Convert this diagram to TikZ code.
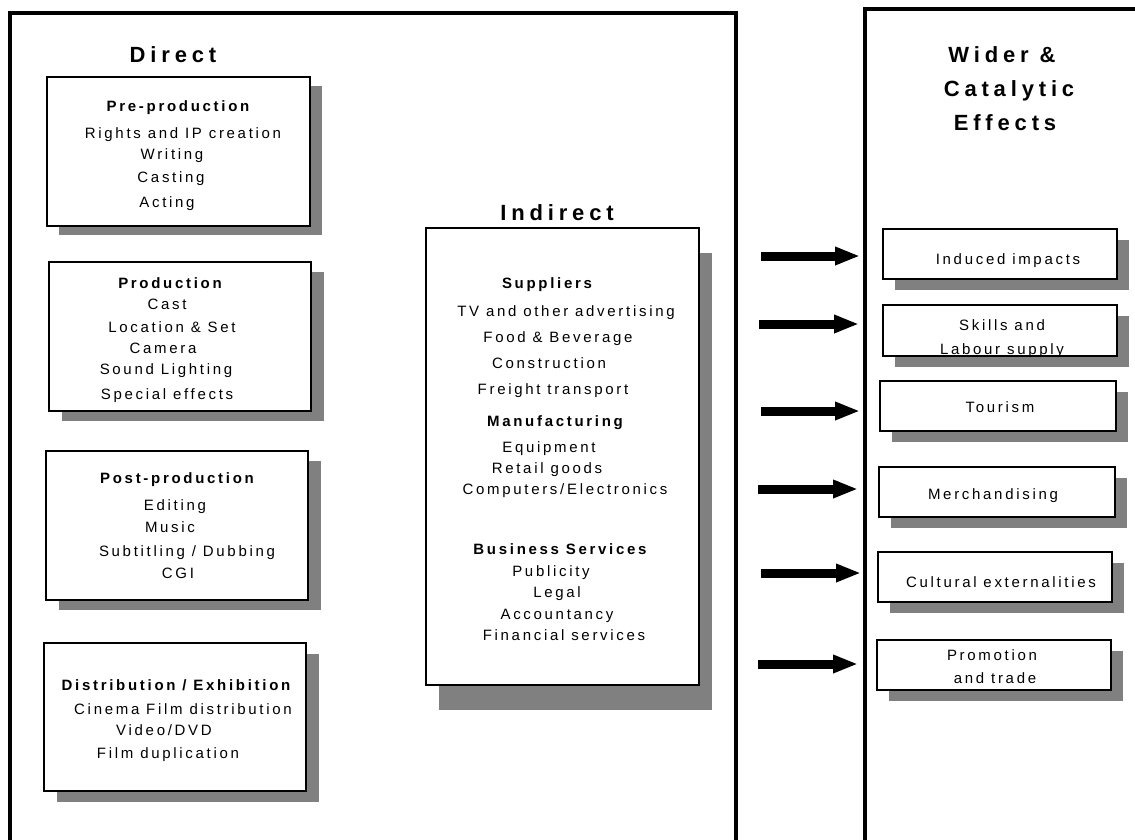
\documentclass[tikz,border=0pt]{standalone}
\usepackage{fontspec}
\setmainfont{Liberation Sans}[LetterSpace=18]
\usetikzlibrary{arrows.meta,shadows}
\definecolor{shadowgray}{RGB}{128,128,128}
\begin{document}
\begin{tikzpicture}[x=1pt,y=-1pt,
  frame/.style={line width=3.5pt, line join=miter},
  box/.style={draw, line width=1.6pt, fill=white, inner sep=0pt},
  shad/.style 2 args={drop shadow={shadow xshift=#1pt, shadow yshift=-#2pt, opacity=1, fill=shadowgray}},
  txt/.style={anchor=base, inner sep=0pt, yshift=-5.5pt, font=\fontsize{15}{17}\selectfont},
  head/.style={txt, font=\fontsize{15}{17}\selectfont\bfseries},
  title/.style={anchor=base, inner sep=0pt, yshift=-8pt, font=\fontsize{22}{26}\selectfont\bfseries\addfontfeature{LetterSpace=22}},
  bigarrow/.style={line width=9pt, -{Triangle[length=25pt,width=17pt]}}
]
\useasboundingbox (0,0) rectangle (1135,840);
\fill[white] (0,0) rectangle (1135,840);

% frames
\draw[frame] (10,845) -- (10,13) -- (736,13) -- (736,845);
\draw[frame] (865,845) -- (865,9) -- (1140,9);

% titles
\node[title] (tdirect) at (173,55) {Direct};
\node[title] (tindirect) at (557,212) {Indirect};
\node[title] (twider1) at (1002,55) {Wider \&};
\node[title] (twider2) at (1009,89) {Catalytic};
\node[title] (twider3) at (1005,123) {Effects};

% direct boxes
\node[box, shad={12}{9}, minimum width=263pt, minimum height=149pt] (pre) at (178.5,151.5) {};
\node[box, shad={13}{10}, minimum width=262pt, minimum height=149pt] (prod) at (180,336.5) {};
\node[box, shad={13}{10}, minimum width=262pt, minimum height=149pt] (post) at (177,525.5) {};
\node[box, shad={13}{11}, minimum width=262pt, minimum height=148pt] (dist) at (175,717) {};

% indirect box
\node[box, shad={13}{25}, minimum width=273pt, minimum height=457pt] (ind) at (562.5,456.5) {};

% wider boxes
\node[box, shad={12}{11}, minimum width=234pt, minimum height=50pt] (induced) at (1000,254) {};
\node[box, shad={12}{11}, minimum width=234pt, minimum height=51pt] (skills) at (1000,330.5) {};
\node[box, shad={12}{11}, minimum width=236pt, minimum height=50pt] (tourism) at (998,406) {};
\node[box, shad={12}{11}, minimum width=236pt, minimum height=50pt] (merch) at (997,492) {};
\node[box, shad={12}{11}, minimum width=234pt, minimum height=50pt] (cult) at (995,577) {};
\node[box, shad={12}{11}, minimum width=234pt, minimum height=50pt] (promo) at (994,665) {};

% pre-production text
\node[head] (p0) at (178,106) {Pre-production};
\node[txt] (p1) at (183,133) {Rights and IP creation};
\node[txt] (p2) at (172,154) {Writing};
\node[txt] (p3) at (171,177) {Casting};
\node[txt] (p4) at (167,202) {Acting};

% production text
\node[head] (r0) at (170,283) {Production};
\node[txt] (r1) at (167,304) {Cast};
\node[txt] (r2) at (172,327) {Location \& Set};
\node[txt] (r3) at (163,348) {Camera};
\node[txt] (r4) at (166,369) {Sound Lighting};
\node[txt] (r5) at (167,394) {Special effects};

% post-production text
\node[head] (o0) at (177,478) {Post-production};
\node[txt] (o1) at (175,505) {Editing};
\node[txt] (o2) at (170,527) {Music};
\node[txt] (o3) at (187,551) {Subtitling / Dubbing};
\node[txt] (o4) at (178,573) {CGI};

% distribution text
\node[head] (d0) at (176,685) {Distribution / Exhibition};
\node[txt] (d1) at (183,709) {Cinema Film distribution};
\node[txt] (d2) at (164,730) {Video/DVD};
\node[txt] (d3) at (168,753) {Film duplication};

% indirect text
\node[head] (i0) at (547,283) {Suppliers};
\node[txt] (i1) at (566,311) {TV and other advertising};
\node[txt] (i2) at (558,337) {Food \& Beverage};
\node[txt] (i3) at (549,363) {Construction};
\node[txt] (i4) at (553,389) {Freight transport};
\node[head] (i5) at (555,421) {Manufacturing};
\node[txt] (i6) at (549,447) {Equipment};
\node[txt] (i7) at (547,468) {Retail goods};
\node[txt] (i8) at (565,489) {Computers/Electronics};
\node[head] (i9) at (560,549) {Business Services};
\node[txt] (i10) at (551,571) {Publicity};
\node[txt] (i11) at (557,592) {Legal};
\node[txt] (i12) at (557,614) {Accountancy};
\node[txt] (i13) at (564,635) {Financial services};

% wider text
\node[txt] (w1) at (1008,259) {Induced impacts};
\node[txt] (w2) at (1002,325) {Skills and};
\node[txt] (w3) at (1002,349) {Labour supply};
\node[txt] (w4) at (1000,407) {Tourism};
\node[txt] (w5) at (993,494) {Merchandising};
\node[txt] (w6) at (1001,582) {Cultural externalities};
\node[txt] (w7) at (992,655) {Promotion};
\node[txt] (w8) at (995,678) {and trade};

% arrows
\coordinate (a1s) at (761,256); \coordinate (a1e) at (860,256);
\coordinate (a2s) at (759,324); \coordinate (a2e) at (859,324);
\coordinate (a3s) at (761,411); \coordinate (a3e) at (860,411);
\coordinate (a4s) at (758,489); \coordinate (a4e) at (858,489);
\coordinate (a5s) at (761,573); \coordinate (a5e) at (861,573);
\coordinate (a6s) at (758,664); \coordinate (a6e) at (858,664);
\draw[bigarrow] (a1s) -- (a1e);
\draw[bigarrow] (a2s) -- (a2e);
\draw[bigarrow] (a3s) -- (a3e);
\draw[bigarrow] (a4s) -- (a4e);
\draw[bigarrow] (a5s) -- (a5e);
\draw[bigarrow] (a6s) -- (a6e);
\end{tikzpicture}
\end{document}
